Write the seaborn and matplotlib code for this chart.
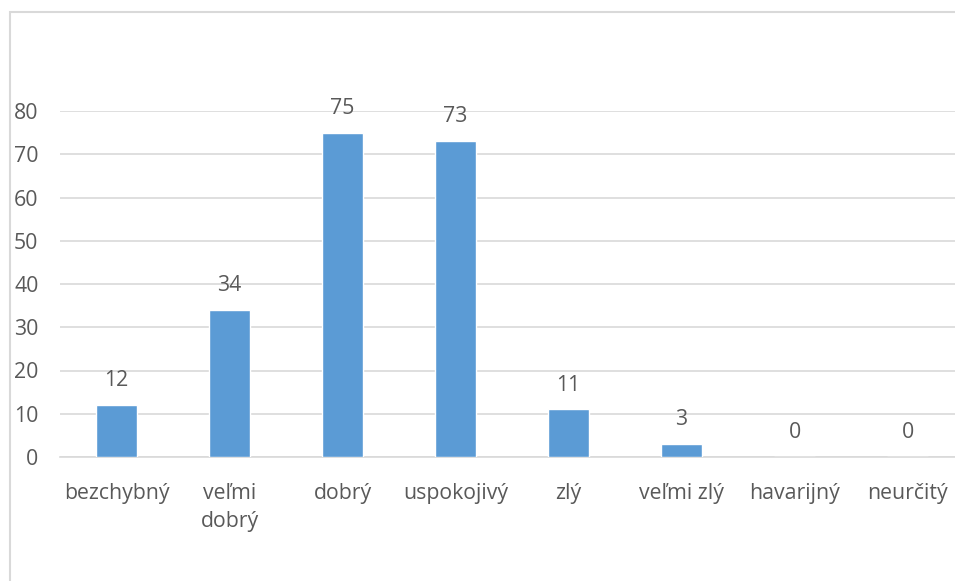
import matplotlib
matplotlib.use("Agg")
import matplotlib.pyplot as plt
import seaborn as sns
import pandas as pd
from matplotlib.patches import Rectangle

categories = ["bezchybný", "veľmi\ndobrý", "dobrý", "uspokojivý", "zlý", "veľmi zlý", "havarijný", "neurčitý"]
values = [12, 34, 75, 73, 11, 3, 0, 0]
yticks = [0, 10, 20, 30, 40, 50, 60, 70, 80]

sns.set_theme(style="white")
plt.rcParams['font.family'] = ['Open Sans', 'DejaVu Sans']

W, H = 955, 581
fig = plt.figure(figsize=(W / 100, H / 100), dpi=100)
left, right = 60 / W, 964 / W
bottom, top = 1 - 457 / H, 1 - 111 / H
ax = fig.add_axes([left, bottom, right - left, top - bottom])

df = pd.DataFrame({"cat": categories, "val": values})
sns.barplot(data=df, x="cat", y="val", color="#5b9bd5", saturation=1, width=0.365, ax=ax, zorder=3)

grid_c = "#d9d9d9"
text_c = "#595959"
fs = 15.3
ax.set_ylim(0, 80)
ax.set_xlim(-0.5, len(categories) - 0.5)
ax.set_yticks(yticks)
ax.set_yticklabels([str(t) for t in yticks], fontsize=fs, color=text_c)
ax.yaxis.grid(True, color=grid_c, linewidth=1.2, zorder=0)
ax.set_axisbelow(True)
for s in ["top", "right", "left"]:
    ax.spines[s].set_visible(False)
ax.spines["bottom"].set_color(grid_c)
ax.spines["bottom"].set_linewidth(1.2)
ax.tick_params(axis="y", length=0, pad=15.5)

# category labels at centers, tick marks at boundaries
ax.set_xticks(range(len(categories)))
ax.set_xticklabels(categories, fontsize=fs, color=text_c, linespacing=1.45, va="top")
ax.tick_params(axis="x", which="major", length=0, pad=18.5)
ax.set_xticks([i - 0.5 for i in range(len(categories) + 1)], minor=True)
ax.tick_params(axis="x", which="minor", length=5, width=1.2, color=grid_c)
ax.set_xlabel("")
ax.set_ylabel("")

for i, v in enumerate(values):
    ax.annotate(str(v), (i, v), xytext=(0, 10), textcoords="offset points",
                ha="center", va="bottom", fontsize=fs, color=text_c, clip_on=False)

fig.patches.append(Rectangle((10 / W, -0.1), 1.2, 1 - 12 / H + 0.1, transform=fig.transFigure,
                             fill=False, edgecolor=grid_c, linewidth=1.5, zorder=0))

fig.savefig("out.png", dpi=100)
